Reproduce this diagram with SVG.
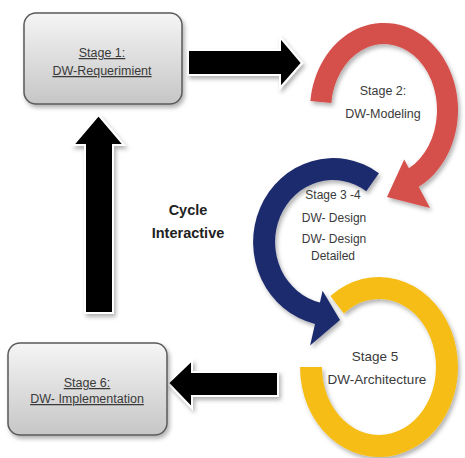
<svg xmlns="http://www.w3.org/2000/svg" width="465" height="458" viewBox="0 0 465 458">
<defs>
<linearGradient id="boxg" x1="0" y1="0" x2="0" y2="1">
<stop offset="0" stop-color="#f5f5f5"/>
<stop offset="1" stop-color="#c6c6c6"/>
</linearGradient>
<filter id="sh" x="-20%" y="-20%" width="140%" height="140%">
<feDropShadow dx="2" dy="3" stdDeviation="2" flood-color="#000" flood-opacity="0.3"/>
</filter>
</defs>
<style>
.box{fill:url(#boxg);stroke:#5a5a5a;stroke-width:1.5;filter:url(#sh)}
.t{font-family:"Liberation Sans",Arial,sans-serif;fill:#3a3a3a;text-anchor:middle}
.u{text-decoration:underline}
.blk{fill:#000;stroke:#fff;stroke-width:2;filter:url(#sh)}
.arc{filter:url(#sh)}
</style>
<rect width="465" height="458" fill="#fff"/>
<g id="connectors">
<path class="blk" d="M188,50 L280,50 L280,37 L302,63 L280,88 L280,75 L188,75 Z"/>
<path class="blk" d="M85,313 L85,145 L73,145 L98.5,115 L124,145 L113,145 L113,313 Z"/>
<path class="blk" d="M278,372 L192,372 L192,360 L168,383 L192,408 L192,396 L278,396 Z"/>
</g>
<g id="stage1">
<rect class="box" x="24" y="13" width="158" height="91" rx="12"/>
<text class="t u" x="102" y="57" font-size="12.5">Stage 1:</text>
<text class="t u" x="102" y="75" font-size="12.5">DW-Requerimient</text>
</g>
<g id="stage6">
<rect class="box" x="8" y="343" width="159" height="92" rx="12"/>
<text class="t u" x="87" y="387" font-size="12.5">Stage 6:</text>
<text class="t u" x="87" y="403" font-size="12.5">DW- Implementation</text>
</g>
<g id="stage5">
<path class="arc" fill="#f6bd17" d="M330.4,296.1 A79,90 0 1 1 300,367 L322,367 A57,68 0 1 0 343.9,313.4 Z"/>
<text class="t" x="375" y="361" font-size="13.5">Stage 5</text>
<text class="t" x="377" y="384" font-size="13.5">DW-Architecture</text>
</g>
<g id="stage34">
<path class="arc" fill="#1f2c6e" d="M378.9,173.2 A80,84 0 1 0 315,323.9 L310.1,345.4 L340,320 L322.6,290.7 L319.95,302.4 A58,62 0 1 1 366.3,191.2 Z"/>
<text class="t" x="333" y="199" font-size="12">Stage 3 -4</text>
<text class="t" x="334" y="222" font-size="12">DW- Design</text>
<text class="t" x="334" y="243" font-size="12">DW- Design</text>
<text class="t" x="333" y="260" font-size="12">Detailed</text>
</g>
<g id="stage2">
<path class="arc" fill="#d54f4c" d="M310.4,100.9 A74,87 0 1 1 418.7,186.8 L430,208 L387,197 L404.2,159.4 L408.9,168.3 A53,66 0 1 0 331.3,103.1 Z"/>
<text class="t" x="383" y="95" font-size="12.5">Stage 2:</text>
<text class="t" x="383" y="118" font-size="12.5">DW-Modeling</text>
</g>
<g id="label">
<text class="t" x="188" y="215" font-size="14.5" font-weight="bold" style="fill:#222">Cycle</text>
<text class="t" x="188" y="238" font-size="14.5" font-weight="bold" style="fill:#222">Interactive</text>
</g>
</svg>
